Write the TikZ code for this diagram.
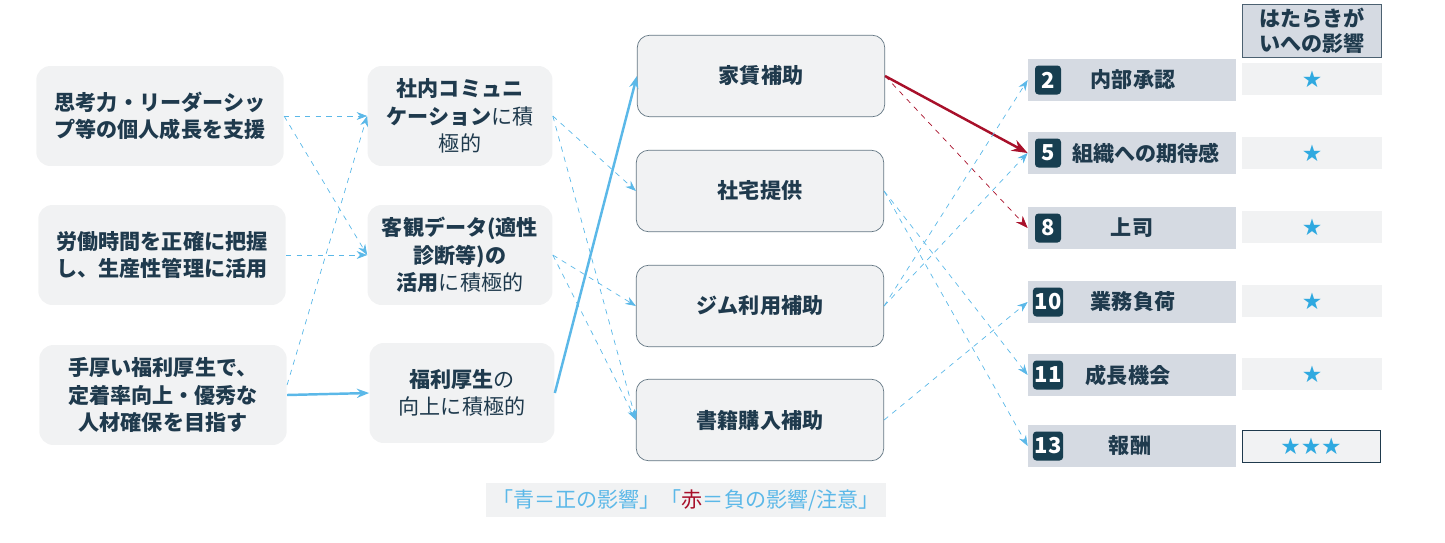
\documentclass[tikz,border=0pt]{standalone}
\usepackage{fontspec}
\setmainfont{Noto Sans CJK JP}
\newfontfamily\symfont{DejaVu Sans}
\usetikzlibrary{arrows.meta}
\definecolor{navy}{HTML}{1F3A4D}
\definecolor{badge}{HTML}{173E50}
\definecolor{softgray}{HTML}{F1F2F3}
\definecolor{rowgray}{HTML}{D5DAE2}
\definecolor{skyblue}{HTML}{5BB8E8}
\definecolor{starblue}{HTML}{2FA9E0}
\definecolor{alert}{HTML}{A8102A}
\begin{document}
\begin{tikzpicture}[
    x=0.02cm, y=-0.02cm,
    every node/.style={font=\fontsize{12}{15.5}\selectfont, text=navy},
    policy/.style={rounded corners=8pt, fill=softgray, minimum width=4.95cm, minimum height=2cm, align=center, font=\fontsize{12}{15.5}\selectfont\bfseries},
    stance/.style={rounded corners=8pt, fill=softgray, minimum width=3.7cm, minimum height=2cm, align=center},
    benefit/.style={rounded corners=7pt, draw=navy!70, fill=softgray, minimum width=4.95cm, minimum height=1.63cm, font=\fontsize{12}{15.5}\selectfont\bfseries},
    factor/.style={fill=rowgray, minimum width=4.16cm, minimum height=0.85cm, font=\fontsize{12}{15.5}\selectfont\bfseries},
    num/.style={rounded corners=2pt, fill=badge, text=white, minimum width=0.52cm, minimum height=0.58cm, inner sep=1pt, font=\fontsize{12.5}{14}\selectfont\bfseries},
    stars/.style={fill=softgray, minimum width=2.8cm, minimum height=0.64cm, text=starblue, font=\symfont\fontsize{13}{14}\selectfont},
    plus/.style={-{Stealth[length=6pt]}, skyblue, dashed, thin},
    strong/.style={-{Stealth[length=7pt]}, skyblue, line width=1.4pt},
    minus/.style={-{Stealth[length=7pt]}, alert, dashed, thin}
]
\useasboundingbox (0,0) rectangle (1445,542);

% policies
\node[policy] (think) at (160,116) {思考力・リーダーシッ\\プ等の個人成長を支援};
\node[policy] (hours) at (162,255) {労働時間を正確に把握\\し、生産性管理に活用};
\node[policy] (welfare) at (163,395) {手厚い福利厚生で、\\定着率向上・優秀な\\人材確保を目指す};

% stances
\node[stance] (comm) at (460,116) {\textbf{社内コミュニ}\\\textbf{ケーション}に積\\極的};
\node[stance] (data) at (460,255) {\textbf{客観データ(適性}\\\textbf{診断等)の}\\\textbf{活用}に積極的};
\node[stance] (care) at (462,393) {\textbf{福利厚生}の\\向上に積極的};

% benefits
\node[benefit] (rent) at (761,76) {家賃補助};
\node[benefit] (house) at (760,191) {社宅提供};
\node[benefit] (gym) at (760,306) {ジム利用補助};
\node[benefit] (books) at (760,420) {書籍購入補助};

% engagement factors
\node[font=\fontsize{12}{14.5}\selectfont\bfseries, draw=navy!80, fill=rowgray, minimum width=2.78cm, minimum height=1.06cm, align=center, inner sep=1pt] (head) at (1312,31) {はたらきが\\いへの影響};
\foreach \n/\lbl/\y/\tx in {2/内部承認/80/1133, 5/組織への期待感/153/1146, 8/上司/228/1132, 10/業務負荷/302/1133, 11/成長機会/375/1128, 13/報酬/446/1130} {
  \node[factor] (f\n) at (1132,\y) {};
  \node[num] (n\n) at (1048,\y) {\n};
  \node[font=\fontsize{12}{15.5}\selectfont\bfseries] (t\n) at (\tx,\y) {\lbl};
}
\foreach \n/\y in {2/79, 5/153, 8/227, 10/301, 11/374} {
  \node[stars] (s\n) at (1312,\y) {★};
}
\node[stars, draw=navy, minimum width=2.76cm] (s13) at (1311,446) {★★★};

% legend
\node[fill=softgray, minimum width=7.84cm, minimum height=0.54cm, text=skyblue] (legend) at (686,500) {「青＝正の影響」「\textcolor{alert}{赤}＝負の影響/注意」};

% links
\draw[plus] (think.east) -- (comm.west);
\draw[plus] (think.east) -- (data.west);
\draw[plus] (hours.east) -- (data.west);
\draw[plus] (welfare.east) ++(0,-10) -- (comm.west);
\draw[strong] (welfare.east) -- (care.west);
\draw[plus] (comm.east) -- (house.west);
\draw[plus] (comm.east) -- (books.west);
\draw[plus] (data.east) -- (gym.west);
\draw[plus] (data.east) -- (books.west);
\draw[strong] (care.east) -- (rent.west);
\draw[-{Stealth[length=9pt]}, alert, line width=1.4pt] (rent.east) -- (f5.west);
\draw[minus] (rent.east) -- (f8.west);
\draw[plus] (house.east) -- (f11.west);
\draw[plus] (house.east) -- (f13.west);
\draw[plus] (gym.east) -- (f2.west);
\draw[plus] (gym.east) -- (f5.west);
\draw[plus] (books.east) -- (f10.west);
\end{tikzpicture}
\end{document}
